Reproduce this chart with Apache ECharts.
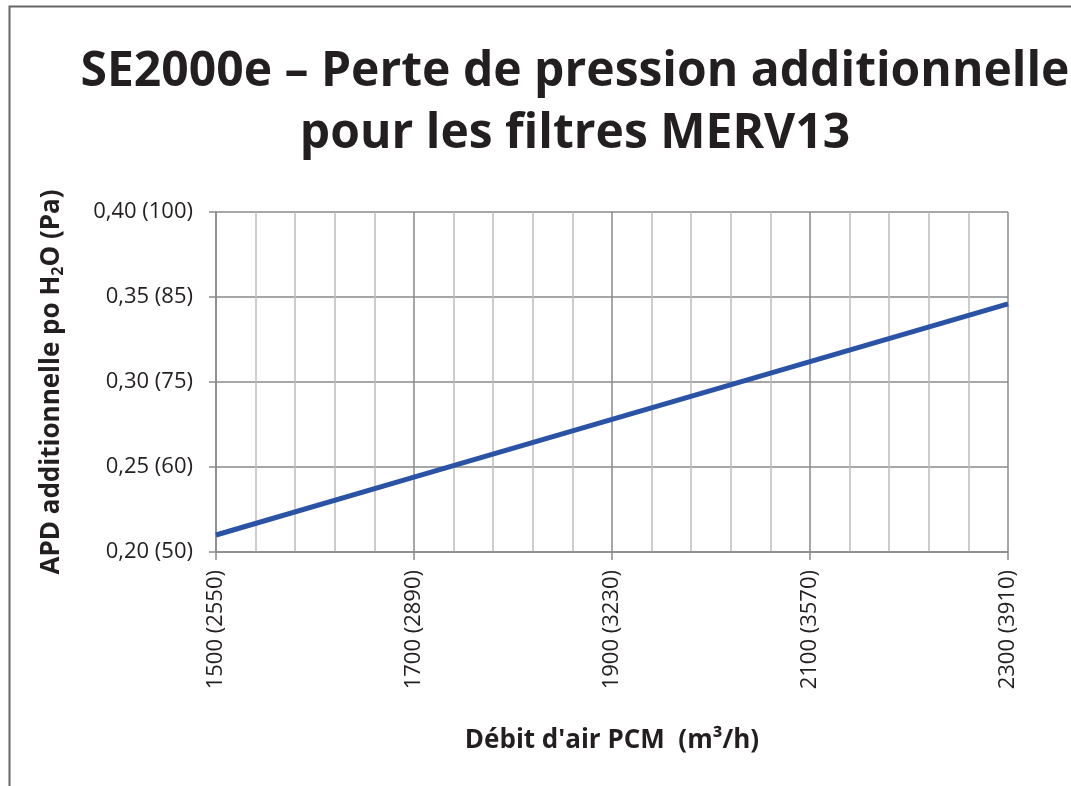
<!DOCTYPE html>
<html><head><meta charset="utf-8">
<script src="https://cdn.jsdelivr.net/npm/echarts@6/dist/echarts.min.js"></script>
<style>html,body{margin:0;padding:0;background:#fff}#c{width:1071px;height:786px}</style>
</head><body><div id="c"></div>
<script>
const titleLines = ['SE2000e – Perte de pression additionnelle', 'pour les filtres MERV13'];
const xName = "Débit d'air PCM  (m³/h)";
const yName = 'APD additionnelle po H{sub|2}O (Pa)';
const flowCFM = [1500, 1700, 1900, 2100, 2300];
const pressure = [0.210, 0.244, 0.278, 0.312, 0.346];
const xTickLabels = {1500: '1500 (2550)', 1700: '1700 (2890)', 1900: '1900 (3230)', 2100: '2100 (3570)', 2300: '2300 (3910)'};
const yTickLabels = {'0.20': '0,20 (50)', '0.25': '0,25 (60)', '0.30': '0,30 (75)', '0.35': '0,35 (85)', '0.40': '0,40 (100)'};

const FONT = 'Open Sans';
const TXT = '#231f20';
const chart = echarts.init(document.getElementById('c'), null, {renderer: 'canvas'});
chart.setOption({
  animation: false,
  backgroundColor: '#fff',
  textStyle: {fontFamily: FONT},
  graphic: [{
    type: 'rect', left: 7, top: 4, shape: {width: 1100, height: 820},
    style: {fill: 'none', stroke: '#666', lineWidth: 2}, z: -1
  }],
  title: {
    text: titleLines.join('\n'),
    left: 570, top: 36, textAlign: 'center',
    textStyle: {fontFamily: FONT, fontWeight: 'bold', fontSize: 48, lineHeight: 62, color: TXT}
  },
  grid: {left: 216, right: 63, top: 212, bottom: 234, containLabel: false},
  xAxis: {
    type: 'value', min: 1500, max: 2300, interval: 200,
    name: xName, nameLocation: 'middle', nameGap: 176,
    nameTextStyle: {fontFamily: FONT, fontWeight: 'bold', fontSize: 26, color: TXT},
    axisLine: {show: true, lineStyle: {color: '#8a8a8a', width: 1.5}},
    axisTick: {show: true, length: 8, lineStyle: {color: '#8a8a8a', width: 1.5}},
    axisLabel: {rotate: 90, margin: 18, fontSize: 22, color: TXT, fontFamily: FONT,
      formatter: v => xTickLabels[v] || ''},
    splitLine: {show: true, lineStyle: {color: '#8a8a8a', width: 1.5}},
    minorTick: {show: false, splitNumber: 5},
    minorSplitLine: {show: true, lineStyle: {color: '#bdbdbd', width: 1.5}}
  },
  yAxis: {
    type: 'value', min: 0.2, max: 0.4, interval: 0.05,
    name: yName, nameLocation: 'middle', nameGap: 150, nameRotate: 90,
    nameTextStyle: {fontFamily: FONT, fontWeight: 'bold', fontSize: 26, color: TXT,
      rich: {sub: {fontFamily: FONT, fontWeight: 'bold', fontSize: 16, color: TXT, verticalAlign: 'bottom', padding: [12, 0, 0, 0]}}},
    axisLine: {show: true, lineStyle: {color: '#8a8a8a', width: 1.5}},
    axisTick: {show: true, length: 7, lineStyle: {color: '#8a8a8a', width: 1.5}},
    axisLabel: {margin: 23, fontSize: 22, color: TXT, fontFamily: FONT,
      formatter: v => yTickLabels[v.toFixed(2)] || ''},
    splitLine: {show: true, lineStyle: {color: '#8a8a8a', width: 1.5}}
  },
  series: [{
    type: 'line', data: flowCFM.map((x, i) => [x, pressure[i]]),
    symbol: 'none', lineStyle: {color: '#2a52a5', width: 5}, z: 5
  }]
});
</script></body></html>
